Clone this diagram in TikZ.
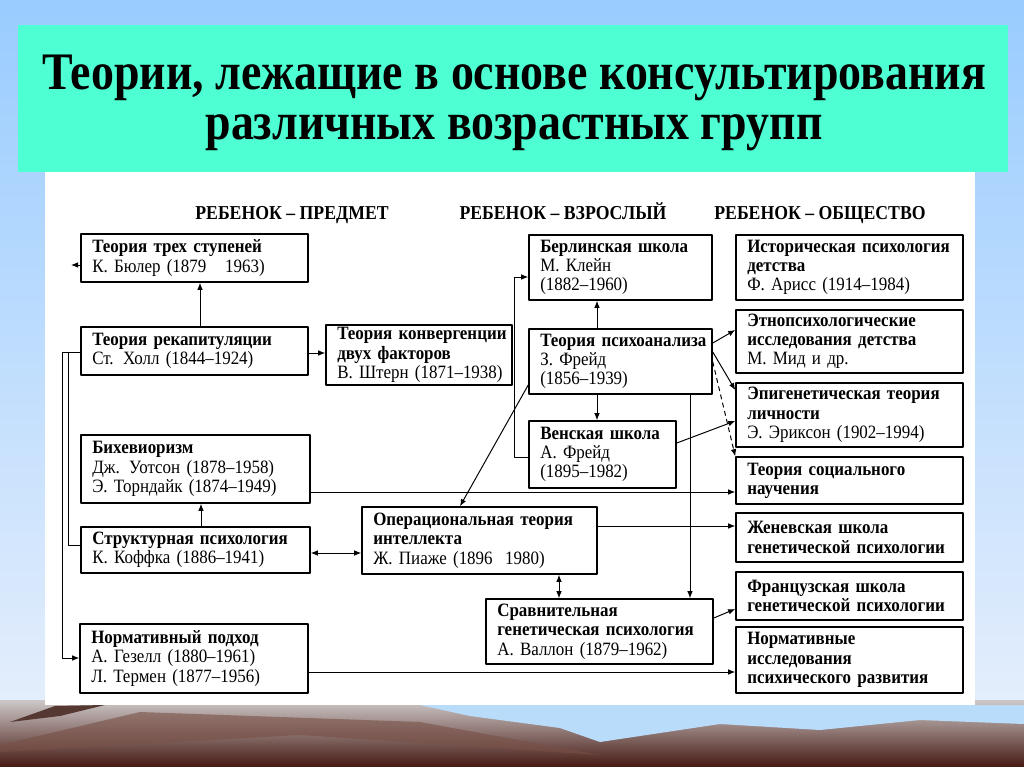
\documentclass[tikz,border=0pt]{standalone}
\usepackage{fontspec}
\setmainfont{Liberation Serif}
\newfontfamily\titlefont[FakeStretch=0.87, Ligatures=TeX]{Liberation Serif}
\newfontfamily\boxfont[FakeStretch=0.9, Ligatures=TeX]{Liberation Serif}
\usetikzlibrary{arrows.meta}
\definecolor{sky}{RGB}{153,204,255}
\definecolor{skylow}{RGB}{228,238,252}
\definecolor{titlebg}{RGB}{77,255,210}
\definecolor{landtop}{RGB}{205,200,200}
\definecolor{landbot}{RGB}{70,25,18}
\definecolor{lake}{RGB}{185,220,250}
\definecolor{rock}{RGB}{120,80,70}
\begin{document}
\begin{tikzpicture}[x=0.025cm, y=-0.025cm, line cap=round, line join=round,
  box/.style={draw, line width=1.1pt, rectangle, align=left, inner xsep=2pt, inner ysep=1pt,
    font=\boxfont\fontsize{13.4pt}{13.7pt}\selectfont},
  head/.style={font=\boxfont\fontsize{14pt}{14pt}\selectfont\bfseries, anchor=base},
  arr/.style={line width=0.7pt, -{Latex[length=5pt, width=4pt]}},
  arrtwo/.style={line width=0.7pt, {Latex[length=5pt, width=4pt]}-{Latex[length=5pt, width=4pt]}},
  link/.style={line width=0.7pt}]
  \newcommand{\nl}{\\\hspace*{6pt}}
  \newcommand{\tbox}[6]{%
    \node[box, minimum width={(#4-#2)*0.025cm}, minimum height={(#5-#3)*0.025cm},
      text width={(#4-#2)*0.025cm-4pt}] (#1) at ({(#2+#4)/2},{(#3+#5)/2}) {\hspace*{6pt}#6};}
  % background of the slide
  \useasboundingbox (0,0) rectangle (1024,767);
  \fill[top color=sky, bottom color=skylow] (0,0) rectangle (1024,705);
  \fill[top color=landtop, bottom color=landbot] (0,700) rectangle (1024,767);
  \fill[lake] (420,705) -- (1024,705) -- (1024,724) -- (920,720) -- (820,730) -- (720,724)
    -- (600,742) -- (560,728) -- (470,716) -- cycle;
  \fill[rock!70!black] (10,722) -- (55,706) -- (105,705) -- (60,716) -- cycle;
  \fill[rock, opacity=0.6] (0,745) -- (140,712) -- (420,722) -- (600,755) -- (300,735) -- (0,752) -- cycle;
  \fill[white] (45,172) rectangle (975,705);
  \fill[titlebg] (18,25) rectangle (1008,172);
  \node[font=\titlefont\fontsize{37.5pt}{36pt}\selectfont\bfseries, align=center] (title) at (514,103)
    {Теории, лежащие в основе консультирования\\различных возрастных групп};
  % column headers
  \node[head] (hdA) at (292,220) {РЕБЕНОК – ПРЕДМЕТ};
  \node[head] (hdB) at (563,220) {РЕБЕНОК – ВЗРОСЛЫЙ};
  \node[head] (hdC) at (820,220) {РЕБЕНОК – ОБЩЕСТВО};
  % left column
  \tbox{buehler}{81}{234}{308}{282}{\textbf{Теория трех ступеней}\nl К. Бюлер (1879~~~1963)}
  \tbox{hall}{81}{327}{308}{375}{\textbf{Теория рекапитуляции}\nl Ст. Холл (1844–1924)}
  \tbox{stern}{326}{325}{512}{385}{\textbf{Теория конвергенции}\nl\textbf{двух факторов}\nl В. Штерн (1871–1938)}
  \tbox{behav}{81}{435}{310}{503}{\textbf{Бихевиоризм}\nl Дж. Уотсон (1878–1958)\nl Э. Торндайк (1874–1949)}
  \tbox{koffka}{81}{527}{310}{573}{\textbf{Структурная психология}\nl К. Коффка (1886–1941)}
  \tbox{gesell}{80}{624}{308}{693}{\textbf{Нормативный подход}\nl А. Гезелл (1880–1961)\nl Л. Термен (1877–1956)}
  % middle column
  \tbox{berlin}{529}{235}{712}{300}{\textbf{Берлинская школа}\nl М. Клейн\nl (1882–1960)}
  \tbox{freud}{529}{329}{712}{394}{\textbf{Теория психоанализа}\nl З. Фрейд\nl (1856–1939)}
  \tbox{vienna}{529}{421}{676}{488}{\textbf{Венская школа}\nl А. Фрейд\nl (1895–1982)}
  \tbox{piaget}{362}{507}{597}{574}{\textbf{Операциональная теория}\nl\textbf{интеллекта}\nl Ж. Пиаже (1896~~1980)}
  \tbox{wallon}{486}{599}{713}{664}{\textbf{Сравнительная}\nl\textbf{генетическая психология}\nl А. Валлон (1879–1962)}
  % right column
  \tbox{aries}{736}{235}{963}{300}{\textbf{Историческая психология}\nl\textbf{детства}\nl Ф. Арисс (1914–1984)}
  \tbox{ethno}{736}{310}{963}{373}{\textbf{Этнопсихологические}\nl\textbf{исследования детства}\nl М. Мид и др.}
  \tbox{erikson}{736}{383}{963}{447}{\textbf{Эпигенетическая теория}\nl\textbf{личности}\nl Э. Эриксон (1902–1994)}
  \tbox{social}{736}{457}{963}{504}{\textbf{Теория социального}\nl\textbf{научения}}
  \tbox{geneva}{736}{513}{963}{562}{\textbf{Женевская школа}\nl\textbf{генетической психологии}}
  \tbox{french}{736}{572}{963}{620}{\textbf{Французская школа}\nl\textbf{генетической психологии}}
  \tbox{normres}{736}{627}{963}{693}{\textbf{Нормативные}\nl\textbf{исследования}\nl\textbf{психического развития}}
  % connectors, left part
  \coordinate (buehler-out) at (71,265);
  \draw[arr] (buehler.west |- buehler-out) -- (buehler-out);
  \draw[arr] (hall.north -| 200,0) -- (buehler.south -| 200,0);
  \draw[arr] (hall.east |- 0,353) -- (stern.west |- 0,353);
  \draw[arr] (hall.west |- 0,352) -- ++(-18,0) |- (gesell.west |- 0,658);
  \draw[link] (hall.west |- 0,352) -- ++(-12,0) |- (koffka.west |- 0,545);
  \draw[arr] (koffka.north -| 201,0) -- (behav.south -| 201,0);
  \draw[arrtwo] (koffka.east |- 0,553) -- (piaget.west |- 0,553);
  \draw[arr] (behav.east |- 0,492) -- (social.west |- 0,492);
  \draw[arr] (piaget.east |- 0,526) -- (geneva.west |- 0,526);
  \draw[arr] (gesell.east |- 0,672) -- (normres.west |- 0,672);
  % connectors, middle part
  \draw[arr] (freud.north -| 597,0) -- (berlin.south -| 597,0);
  \draw[arr] (freud.south -| 597,0) -- (vienna.north -| 597,0);
  \draw[arr] (vienna.west |- 0,457) -- ++(-14,0) |- (berlin.west |- 0,277);
  \draw[arr] (freud.west |- 0,385) -- (piaget.north -| 460,0);
  \draw[arr] (freud.south -| 690,0) -- (wallon.north -| 690,0);
  \draw[arrtwo] (piaget.south -| 559,0) -- (wallon.north -| 559,0);
  \draw[arr] (wallon.east |- 0,618) -- (french.west |- 0,609);
  % connectors to the right column
  \draw[arr] (freud.east |- 0,343) -- (ethno.west |- 0,330);
  \draw[arr] (freud.east |- 0,352) -- (erikson.west |- 0,390);
  \draw[arr, dashed] (freud.east |- 0,362) -- (social.north west);
  \draw[arr] (vienna.east |- 0,443) -- (erikson.west |- 0,421);
\end{tikzpicture}
\end{document}
